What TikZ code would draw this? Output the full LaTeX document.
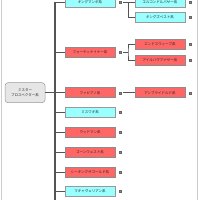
\documentclass[tikz,border=0pt]{standalone}
\usepackage{fontspec}
\newfontfamily\jp{Noto Sans CJK JP}
\definecolor{cyanbox}{RGB}{153,255,255}
\definecolor{redbox}{RGB}{255,102,102}
\definecolor{rootbox}{RGB}{230,230,230}
\definecolor{linec}{RGB}{85,85,85}
\begin{document}
\begin{tikzpicture}[x=1pt,y=-1pt,
  lbl/.style={font=\jp\fontsize{3.5}{4.2}\selectfont, text=black!85, inner sep=0pt, align=center},
  cybox/.style={lbl, draw=black!40, line width=0.5pt, fill=cyanbox, minimum width=50pt, minimum height=10pt},
  rdbox/.style={lbl, draw=black!45, line width=0.5pt, fill=redbox, minimum width=50pt, minimum height=10pt},
  rootnode/.style={lbl, draw=black!40, line width=0.5pt, fill=rootbox, rounded corners=3pt, minimum width=40pt, minimum height=20pt},
  icon/.style={draw=black!60, fill=black!45, line width=0.3pt, minimum size=2pt, inner sep=0pt},
  conn/.style={draw=linec, line width=0.7pt},
  trunkline/.style={draw=linec, line width=1.1pt}
]
\useasboundingbox (0,0) rectangle (200,200);
\fill[white] (0,0) rectangle (200,200);
\draw[black!20, line width=0.6pt] (1,-2) -- (1,202);
\draw[black!20, line width=0.6pt] (197.5,-2) -- (197.5,202);

% root
\node[rootnode] (root) at (25,92.7) {ミスター\\プロスペクター系};

% level 1
\node[cybox] (km) at (90,2) {キングマンボ系};
\node[rdbox] (fn) at (90,52.3) {フォーティナイナー系};
\node[rdbox] (fa) at (90,92.7) {ファピアノ系};
\node[cybox] (mw) at (90,112.3) {ミスワキ系};
\node[rdbox] (wm) at (90,132) {ウッドマン系};
\node[rdbox] (gw) at (90,152) {ゴーンウェスト系};
\node[rdbox] (stg) at (90,172) {シーキングザゴールド系};
\node[cybox] (mv) at (90,191.5) {マキャヴェリアン系};

% level 2
\node[cybox] (ecp) at (160,2) {エルコンドルパサー系};
\node[cybox] (kb) at (160,17.3) {キングズベスト系};
\node[rdbox] (es) at (160,44.3) {エンドスウィープ系};
\node[rdbox] (iha) at (160,60) {アイルハヴアナザー系};
\node[rdbox] (ub) at (160,92.7) {アンブライドルド系};

% icons
\foreach \n in {km,fn,fa,mw,wm,gw,stg,mv,ecp,kb,es,iha,ub}{
  \node[icon] (i\n) at ([xshift=5pt]\n.east) {};
}

% trunk
\coordinate (ttop) at (55,2);
\coordinate (tbot) at (55,202);
\draw[trunkline] (ttop) -- (tbot);
\draw[conn] (root.east) -- (root.east -| ttop);
\foreach \n in {km,fn,fa,mw,wm,gw,stg,mv}{
  \draw[conn] (\n.west -| ttop) -- (\n.west);
}

% level 2 connectors
\coordinate (bx) at (128,0);
\draw[conn] ([xshift=2pt]ikm.east) -- (ecp.west);
\draw[conn] (ikm.east -| bx) |- (kb.west);
\draw[conn] ([xshift=2pt]ifn.east) -- (ifn.east -| bx);
\draw[conn] (es.west) -| (ifn.east -| bx) |- (iha.west);
\draw[conn] ([xshift=2pt]ifa.east) -- (ub.west);
\end{tikzpicture}
\end{document}
